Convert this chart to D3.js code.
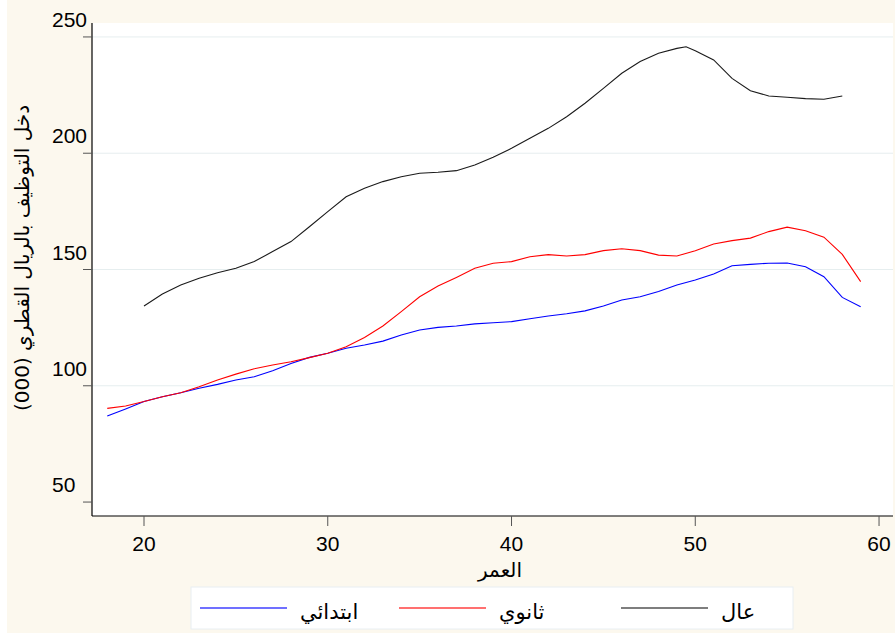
<!DOCTYPE html>
<html>
<head>
<meta charset="utf-8">
<script src="https://cdn.jsdelivr.net/npm/d3@7"></script>
<style>
  body { margin: 0; background: #ffffff; }
  text { font-family: "Liberation Sans", Arial, sans-serif; fill: #000; }
  .ar { font-family: "DejaVu Sans", sans-serif; }
</style>
</head>
<body>
<svg class="chart"></svg>
<script>
// ages for each education level
const agesPrimary = d3.range(18, 60)
const agesSecondary = d3.range(18, 60)
const agesHigher = [20, 21, 22, 23, 24, 25, 26, 27, 28, 29, 30, 31, 32, 33, 34, 35, 36, 37, 38, 39,
  40, 41, 42, 43, 44, 45, 46, 47, 48, 49, 49.5, 50, 51, 52, 53, 54, 55, 56, 57, 58]

// employment income, QAR (000)
const incPrimary = [87.0, 90.0, 93.2, 95.3, 97.0, 98.9, 100.6, 102.5, 103.9, 106.5,
  109.6, 112.2, 114.0, 116.1, 117.5, 119.2, 121.8, 124.0, 125.1, 125.7,
  126.6, 127.1, 127.6, 128.8, 130.0, 131.0, 132.2, 134.3, 136.9, 138.3,
  140.5, 143.3, 145.5, 148.1, 151.6, 152.2, 152.7, 152.8, 151.2, 146.9,
  138.0, 134.0]
const incSecondary = [90.3, 91.3, 93.2, 95.3, 97.0, 99.6, 102.5, 105.0, 107.3, 108.9,
  110.3, 112.1, 114.0, 116.8, 120.8, 125.7, 131.9, 138.3, 142.9, 146.6,
  150.5, 152.7, 153.4, 155.5, 156.4, 155.8, 156.4, 158.1, 158.9, 158.1,
  156.2, 155.8, 158.1, 161.0, 162.4, 163.5, 166.3, 168.2, 166.7, 163.9,
  156.5, 144.8]
const incHigher = [134.3, 139.5, 143.3, 146.2, 148.6, 150.5, 153.4, 157.7, 162.0, 168.4,
  174.9, 181.3, 184.9, 187.8, 189.9, 191.4, 191.8, 192.5, 194.9, 198.3,
  202.1, 206.4, 210.7, 215.7, 221.5, 227.9, 234.4, 239.4, 243.0, 245.1,
  245.8, 244.1, 240.1, 232.2, 226.9, 224.6, 224.1, 223.5, 223.2, 224.6]

const seriesNames = ['ابتدائي', 'ثانوي', 'عال']
const seriesColors = ['#0000ff', '#ff0000', '#1a1a1a']
const xTicks = [20, 30, 40, 50, 60]
const yTicks = [50, 100, 150, 200, 250]
const yGrid = [100, 150, 200, 250]
const xTitle = 'العمر'
const yTitle = 'دخل التوظيف بالريال القطري (000)'

const W = 895, H = 633
const plot = { left: 92, right: 893, top: 23, bottom: 516 }

const series = [
  agesPrimary.map((a, i) => ({ age: a, v: incPrimary[i] })),
  agesSecondary.map((a, i) => ({ age: a, v: incSecondary[i] })),
  agesHigher.map((a, i) => ({ age: a, v: incHigher[i] }))
]

const svg = d3.select('.chart').attr('width', W).attr('height', H)

// cream page background (thin white strip on the left)
svg.append('rect').attr('x', 7).attr('y', 0).attr('width', W - 7).attr('height', H).attr('fill', '#fcf8ee')
svg.append('rect')
  .attr('x', plot.left).attr('y', plot.top)
  .attr('width', plot.right - plot.left).attr('height', plot.bottom - plot.top)
  .attr('fill', '#ffffff')

const xSc = d3.scaleLinear().domain([17.17, 60.76]).range([plot.left, plot.right])
const ySc = d3.scaleLinear().domain([44.0, 256.0]).range([plot.bottom, plot.top])

// grid lines
svg.selectAll('.grid')
  .data(yGrid)
  .enter()
  .append('line')
  .attr('x1', plot.left).attr('x2', plot.right)
  .attr('y1', d => ySc(d)).attr('y2', d => ySc(d))
  .attr('stroke', '#e6eeef')
  .attr('stroke-width', 1)

// y axis
svg.append('line')
  .attr('x1', plot.left).attr('x2', plot.left)
  .attr('y1', plot.top).attr('y2', plot.bottom)
  .attr('stroke', '#000').attr('stroke-width', 1.2)

svg.selectAll('.ytick')
  .data(yTicks)
  .enter()
  .append('line')
  .attr('x1', plot.left - 9).attr('x2', plot.left)
  .attr('y1', d => ySc(d)).attr('y2', d => ySc(d))
  .attr('stroke', '#555').attr('stroke-width', 1)

svg.selectAll('.ylab')
  .data(yTicks)
  .enter()
  .append('text')
  .attr('x', 52)
  .attr('y', d => ySc(d) - 10)
  .attr('font-size', 21)
  .text(d => d)

// x axis
svg.append('line')
  .attr('x1', plot.left).attr('x2', plot.right)
  .attr('y1', plot.bottom).attr('y2', plot.bottom)
  .attr('stroke', '#000').attr('stroke-width', 1.2)

svg.selectAll('.xtick')
  .data(xTicks)
  .enter()
  .append('line')
  .attr('x1', d => xSc(d)).attr('x2', d => xSc(d))
  .attr('y1', plot.bottom).attr('y2', plot.bottom + 10)
  .attr('stroke', '#555').attr('stroke-width', 1)

svg.selectAll('.xlab')
  .data(xTicks)
  .enter()
  .append('text')
  .attr('x', d => xSc(d))
  .attr('y', 551)
  .attr('text-anchor', 'middle')
  .attr('font-size', 21)
  .text(d => d)

// axis titles
svg.append('text')
  .attr('class', 'ar')
  .attr('x', 500).attr('y', 577)
  .attr('text-anchor', 'middle')
  .attr('font-size', 20)
  .text(xTitle)

svg.append('text')
  .attr('class', 'ar')
  .attr('transform', 'translate(29,258) rotate(-90)')
  .attr('text-anchor', 'middle')
  .attr('font-size', 20)
  .text(yTitle)

// lines
const line = d3.line().x(d => xSc(d.age)).y(d => ySc(d.v))

svg.selectAll('.series')
  .data(series)
  .enter()
  .append('path')
  .attr('d', line)
  .attr('fill', 'none')
  .attr('stroke', (d, i) => seriesColors[i])
  .attr('stroke-width', 1.1)

// legend
const legend = { x: 191, y: 587, w: 602, h: 42 }
svg.append('rect')
  .attr('x', legend.x).attr('y', legend.y)
  .attr('width', legend.w).attr('height', legend.h)
  .attr('fill', '#ffffff')
  .attr('stroke', '#e8eef2')

const keyX = [200, 399, 621]
const keys = svg.selectAll('.key')
  .data(seriesNames)
  .enter()
  .append('g')
  .attr('transform', (d, i) => `translate(${keyX[i]},${legend.y + 21})`)

keys.append('line')
  .attr('x1', 0).attr('x2', 87)
  .attr('y1', 0).attr('y2', 0)
  .attr('stroke', (d, i) => seriesColors[i])
  .attr('stroke-width', 1.3)
  .attr('stroke-opacity', 0.75)

keys.append('text')
  .attr('class', 'ar')
  .attr('x', 100)
  .attr('y', 11)
  .attr('font-size', 21)
  .attr('direction', 'rtl')
  .attr('text-anchor', 'end')
  .text(d => d)
</script>
</body>
</html>
